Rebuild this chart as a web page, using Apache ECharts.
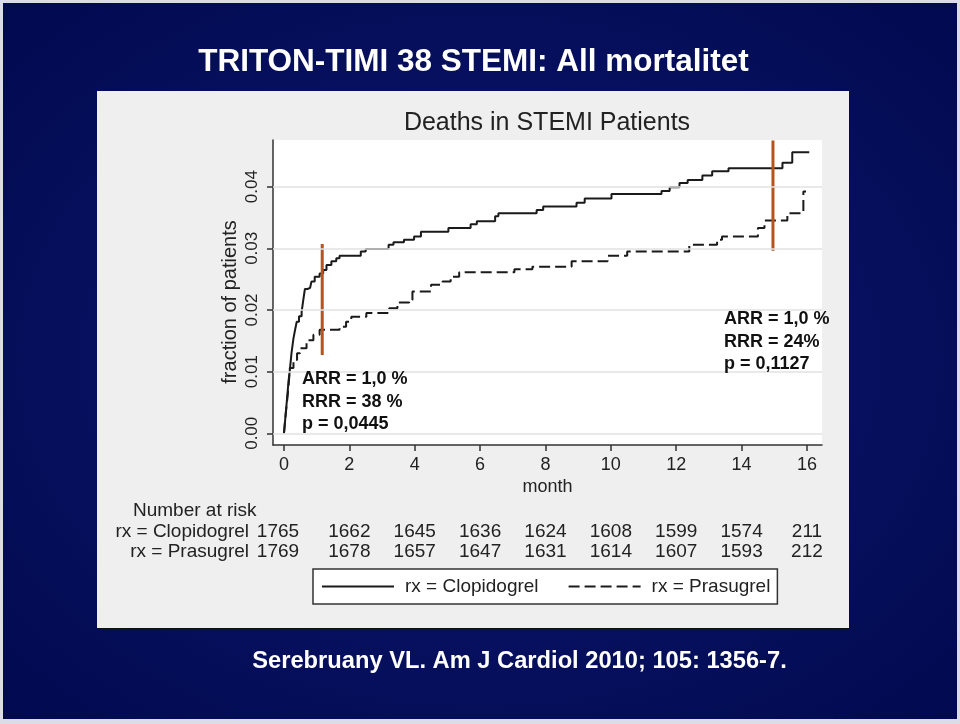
<!DOCTYPE html>
<html><head><meta charset="utf-8">
<script src="https://cdn.jsdelivr.net/npm/echarts@6/dist/echarts.min.js"></script>
<style>
html,body{margin:0;padding:0;background:#dcdce6;}
#bg{position:absolute;left:3px;top:3px;width:954px;height:716px;background:radial-gradient(ellipse at 50% 50%, #0d1c76 0%, #06105e 55%, #010a4f 100%);}
#panel{position:absolute;left:97px;top:91px;width:752px;height:537px;background:#efefef;box-shadow:1px 1px 0 #111;}
#c{position:absolute;left:0;top:0;width:960px;height:724px;}
</style>
</head><body>
<div id="bg"></div><div id="panel"></div><div id="c"></div>
<script>
// ---- data ----
const clopMonths = [0, 0.05, 0.10, 0.14, 0.18, 0.23, 0.29, 0.34, 0.39, 0.46, 0.54, 0.59, 0.64, 0.72, 0.80, 0.84, 0.94, 1.09, 1.20, 1.30, 1.45, 1.60, 1.70, 2.35, 2.50, 3.20, 3.35, 3.67, 3.98, 4.19, 5.03, 5.71, 5.90, 6.46, 6.56, 7.73, 7.93, 8.95, 9.20, 10.02, 11.55, 11.80, 12.10, 12.35, 12.80, 13.10, 13.60, 15.25, 15.55, 16.07];
const clopValues = [0, 0.0030, 0.0060, 0.0085, 0.0103, 0.0130, 0.0154, 0.0168, 0.0181, 0.0190, 0.0197, 0.0216, 0.0234, 0.0236, 0.0238, 0.0246, 0.0254, 0.0259, 0.0265, 0.0273, 0.0279, 0.0284, 0.0288, 0.0295, 0.0299, 0.0306, 0.0310, 0.0314, 0.0319, 0.0327, 0.0333, 0.0339, 0.0344, 0.0352, 0.0357, 0.0362, 0.0368, 0.0374, 0.0381, 0.0388, 0.0393, 0.0399, 0.0406, 0.0411, 0.0418, 0.0425, 0.0430, 0.0439, 0.0456, 0.0456];
const prasMonths = [0, 0.05, 0.10, 0.14, 0.18, 0.29, 0.40, 0.49, 0.69, 0.90, 1.09, 1.70, 1.90, 2.06, 2.52, 3.22, 3.47, 3.83, 3.93, 4.50, 4.85, 5.10, 5.36, 7.05, 7.60, 8.80, 9.90, 10.50, 12.40, 13.25, 13.40, 14.50, 14.70, 15.40, 15.89, 15.97];
const prasValues = [0, 0.0030, 0.0055, 0.0076, 0.0106, 0.0119, 0.0130, 0.0138, 0.0151, 0.0160, 0.0168, 0.0173, 0.0181, 0.0189, 0.0195, 0.0203, 0.0212, 0.0216, 0.0230, 0.0241, 0.0246, 0.0254, 0.0261, 0.0266, 0.0270, 0.0279, 0.0288, 0.0295, 0.0306, 0.0314, 0.0319, 0.0333, 0.0345, 0.0357, 0.0392, 0.0392];
const xTicks = [0, 2, 4, 6, 8, 10, 12, 14, 16];
const yTicks = [0, 0.01, 0.02, 0.03, 0.04];
const riskMonths = [0, 2, 4, 6, 8, 10, 12, 14, 16];
const riskClop = [1765, 1662, 1645, 1636, 1624, 1608, 1599, 1574, 211];
const riskPras = [1769, 1678, 1657, 1647, 1631, 1614, 1607, 1593, 212];
const refMonths = [1.17, 14.96];
const refLow = [0.0127, 0.0296];
const refHigh = [0.0307, 0.0475];
const annotations = ['ARR = 1,0 %\nRRR = 38 %\np = 0,0445', 'ARR = 1,0 %\nRRR = 24%\np = 0,1127'];
const seriesNames = ['rx = Clopidogrel', 'rx = Prasugrel'];

// ---- chart ----
const FONT = '"Liberation Sans", Arial, Helvetica, sans-serif';
const chart = echarts.init(document.getElementById('c'), null, {renderer: 'canvas', width: 960, height: 724});
const zip = (a, b) => a.map((v, i) => [v, b[i]]);
const axisCol = '#333';

const option = {
  animation: false,
  backgroundColor: 'transparent',
  textStyle: {fontFamily: FONT},
  grid: {left: 273, top: 140, width: 549, height: 305, show: true, backgroundColor: '#ffffff', borderWidth: 0},
  xAxis: {
    type: 'value', min: -0.336, max: 16.46,
    axisLine: {show: true, onZero: false, lineStyle: {color: axisCol, width: 1.5}},
    axisTick: {show: true, length: 6, customValues: xTicks, lineStyle: {color: axisCol, width: 1.5}},
    axisLabel: {customValues: xTicks, fontSize: 18, color: '#222', margin: 11, fontFamily: FONT},
    splitLine: {show: false},
    name: 'month', nameLocation: 'middle', nameGap: 33,
    nameTextStyle: {fontSize: 18, color: '#222', fontFamily: FONT}
  },
  yAxis: {
    type: 'value', min: -0.0019, max: 0.04757,
    axisLine: {show: true, onZero: false, lineStyle: {color: axisCol, width: 1.5}},
    axisTick: {show: true, length: 6, customValues: yTicks, lineStyle: {color: axisCol, width: 1.5}},
    axisLabel: {customValues: yTicks, rotate: 90, fontSize: 17, color: '#222', margin: 12, fontFamily: FONT,
      formatter: v => v.toFixed(2)},
    splitLine: {show: false}
  },
  legend: {
    data: seriesNames, left: 313, top: 569, orient: 'horizontal',
    itemWidth: 72, itemHeight: 14, itemGap: 29, padding: [8, 7, 8, 8],
    backgroundColor: '#ffffff', borderColor: '#333', borderWidth: 1.5, borderRadius: 0,
    itemStyle: {opacity: 0}, selectedMode: false,
    textStyle: {fontSize: 19, color: '#222', padding: [0, 0, 0, 6], fontFamily: FONT}
  },
  series: [
    {
      name: 'grid', type: 'line', data: [], silent: true, z: 1,
      markLine: {silent: true, symbol: ['none', 'none'], animation: false, label: {show: false},
        lineStyle: {color: '#e2e2e2', type: 'solid', width: 1.5},
        emphasis: {disabled: true},
        data: yTicks.map(v => ({yAxis: v}))}
    },
    {
      name: seriesNames[0], type: 'line', step: 'end', data: zip(clopMonths, clopValues),
      symbol: 'none', z: 3, lineStyle: {color: '#1a1a1a', width: 2}, itemStyle: {color: '#1a1a1a'}
    },
    {
      name: seriesNames[1], type: 'line', step: 'end', data: zip(prasMonths, prasValues),
      symbol: 'none', z: 3, lineStyle: {color: '#1a1a1a', width: 2, type: [11, 5]}, itemStyle: {color: '#1a1a1a'}
    }
  ].concat(refMonths.map((m, i) => ({
      name: 'ref' + i, type: 'line', data: [[m, refLow[i]], [m, refHigh[i]]], symbol: 'none', z: 4, silent: true,
      lineStyle: {color: '#b5541c', width: 3}
  })))
};
chart.setOption(option);

// ---- texts (title, table, annotations) ----
const px = m => chart.convertToPixel({xAxisIndex: 0}, m);
const txt = (text, x, y, o) => ({
  type: 'text', x: x, y: y, z: 100, silent: true,
  style: Object.assign({text: text, fill: '#222', fontSize: 19, fontFamily: FONT, align: 'center', verticalAlign: 'middle'}, o || {})
});
const g = [];
g.push(txt('TRITON-TIMI 38 STEMI: All mortalitet', 473.5, 62, {fill: '#ffffff', fontSize: 31.5, fontWeight: 'bold'}));
g.push(txt('Deaths in STEMI Patients', 547, 123, {fill: '#222', fontSize: 25}));
g.push(txt('Serebruany VL. Am J Cardiol 2010; 105: 1356-7.', 519.5, 661, {fill: '#ffffff', fontSize: 23.7, fontWeight: 'bold'}));
const yName = txt('fraction of patients', 230, 302, {fontSize: 20});
yName.rotation = Math.PI / 2;
g.push(yName);
g.push(txt('Number at risk', 133, 511, {align: 'left'}));
g.push(txt(seriesNames[0], 249, 532, {align: 'right'}));
g.push(txt(seriesNames[1], 249, 552, {align: 'right'}));
riskMonths.forEach((m, i) => {
  const x = px(m) - (i === 0 ? 6 : 0);
  g.push(txt(String(riskClop[i]), x, 532));
  g.push(txt(String(riskPras[i]), x, 552));
});
const annPos = [[302, 368], [724, 308]];
annotations.forEach((a, i) => {
  g.push(txt(a, annPos[i][0], annPos[i][1], {align: 'left', verticalAlign: 'top', fontSize: 18, fontWeight: 'bold', fill: '#111', lineHeight: 22.5}));
});
chart.setOption({graphic: g});
</script>
</body></html>
